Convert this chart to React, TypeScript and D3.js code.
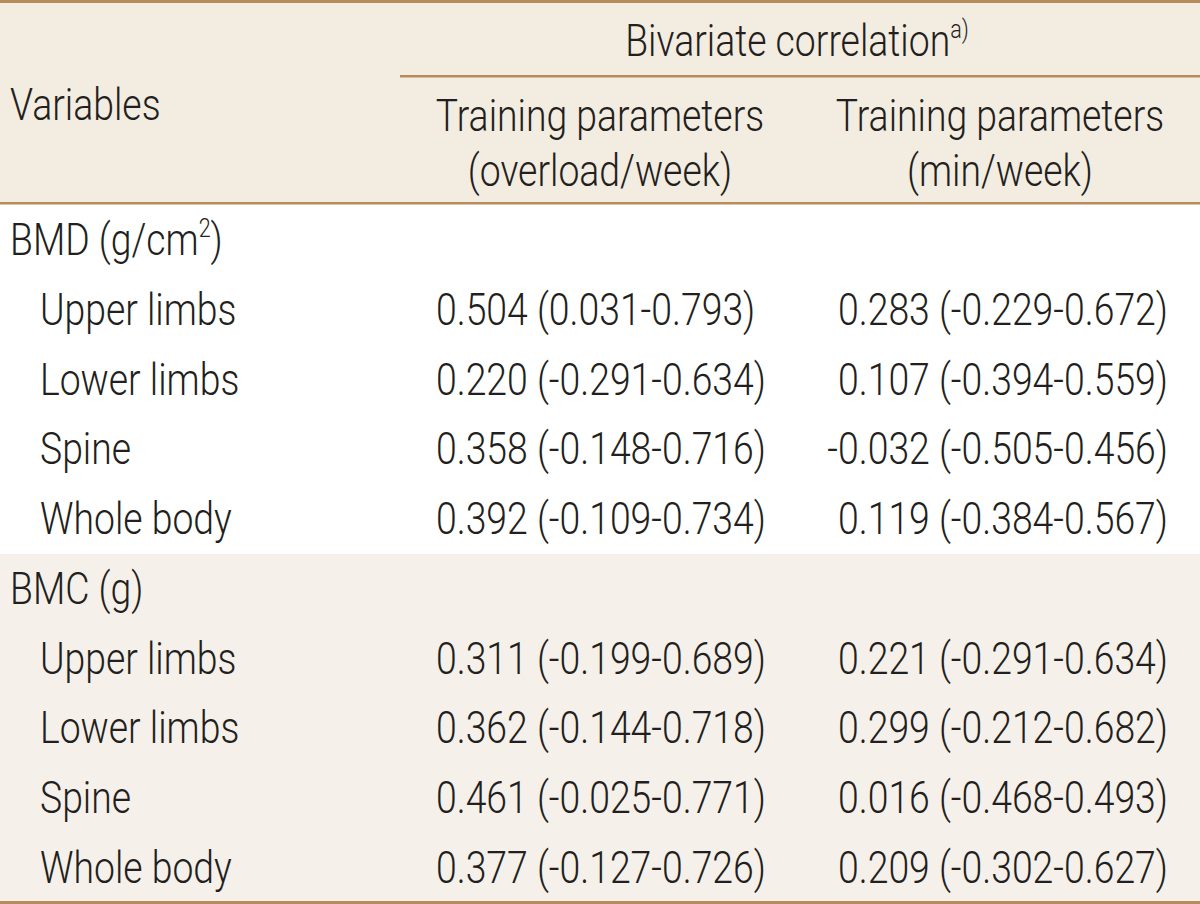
import React from "react";
import * as d3 from "d3";

const sectionLabels = ["BMD (g/cm", "BMC (g)"];
const rowLabels = [
  "BMD", "Upper limbs", "Lower limbs", "Spine", "Whole body",
  "BMC", "Upper limbs", "Lower limbs", "Spine", "Whole body",
];
const overloadWeek = [
  "", "0.504 (0.031-0.793)", "0.220 (-0.291-0.634)", "0.358 (-0.148-0.716)", "0.392 (-0.109-0.734)",
  "", "0.311 (-0.199-0.689)", "0.362 (-0.144-0.718)", "0.461 (-0.025-0.771)", "0.377 (-0.127-0.726)",
];
const minWeek = [
  "", "0.283 (-0.229-0.672)", "0.107 (-0.394-0.559)", "-0.032 (-0.505-0.456)", "0.119 (-0.384-0.567)",
  "", "0.221 (-0.291-0.634)", "0.299 (-0.212-0.682)", "0.016 (-0.468-0.493)", "0.209 (-0.302-0.627)",
];

const W = 1200;
const H = 904;
const FONT = "Roboto, 'Liberation Sans', Arial, sans-serif";
const FS = 45;
const SX = 0.83;
const WEIGHT = 300;
const SUP = 26;
const INK = "#231f20";
const LINE = "#b88c5a";
const HEAD_BG = "#f3ece1";
const ALT_BG = "#f5f0ea";

function T({ x, y, anchor = "start", children }: any) {
  return (
    <text
      transform={`translate(${x},${y}) scale(${SX},1)`}
      textAnchor={anchor}
      fontFamily={FONT}
      fontSize={FS}
      fontWeight={WEIGHT}
      fill={INK}
    >
      {children}
    </text>
  );
}

export default function App() {
  const y = d3.scaleLinear().domain([0, rowLabels.length - 1]).range([255, 883]);
  return (
    <svg
      width={W}
      height={H}
      style={{ position: "absolute", left: 0, top: 0, background: "#ffffff" }}
    >
      <rect x={0} y={0} width={W} height={H} fill="#ffffff" />
      <rect x={0} y={0} width={W} height={y(0) - 52} fill={HEAD_BG} />
      <rect x={0} y={y(5) - 50} width={W} height={H - (y(5) - 50)} fill={ALT_BG} />
      <rect x={0} y={0} width={W} height={3} fill={LINE} />
      <rect x={400} y={75} width={W - 400} height={2.5} fill={LINE} />
      <rect x={0} y={y(0) - 53} width={W} height={2.5} fill={LINE} />
      <rect x={0} y={H - 3} width={W} height={3} fill={LINE} />

      <T x={10} y={120}>Variables</T>
      <text
        transform={`translate(797,56) scale(${SX},1)`}
        textAnchor="middle"
        fontFamily={FONT}
        fontSize={FS}
        fontWeight={WEIGHT}
        fill={INK}
      >
        Bivariate correlation
        <tspan fontSize={SUP} dy={-18}>a)</tspan>
      </text>
      <T x={600} y={131} anchor="middle">Training parameters</T>
      <T x={600} y={186} anchor="middle">(overload/week)</T>
      <T x={1000} y={131} anchor="middle">Training parameters</T>
      <T x={1000} y={186} anchor="middle">(min/week)</T>

      {rowLabels.map((lab, i) => {
        const isSection = i === 0 || i === 5;
        const by = y(i);
        return (
          <g key={i}>
            {isSection ? (
              i === 0 ? (
                <text
                  transform={`translate(10,${by}) scale(${SX},1)`}
                  fontFamily={FONT}
                  fontSize={FS}
                  fontWeight={WEIGHT}
                  fill={INK}
                >
                  {sectionLabels[0]}
                  <tspan fontSize={SUP} dy={-18}>2</tspan>
                  <tspan fontSize={FS} dy={18}>)</tspan>
                </text>
              ) : (
                <T x={10} y={by}>{sectionLabels[1]}</T>
              )
            ) : (
              <T x={40} y={by}>{lab}</T>
            )}
            {overloadWeek[i] && <T x={436} y={by}>{overloadWeek[i]}</T>}
            {minWeek[i] && <T x={1168} y={by} anchor="end">{minWeek[i]}</T>}
          </g>
        );
      })}
    </svg>
  );
}
